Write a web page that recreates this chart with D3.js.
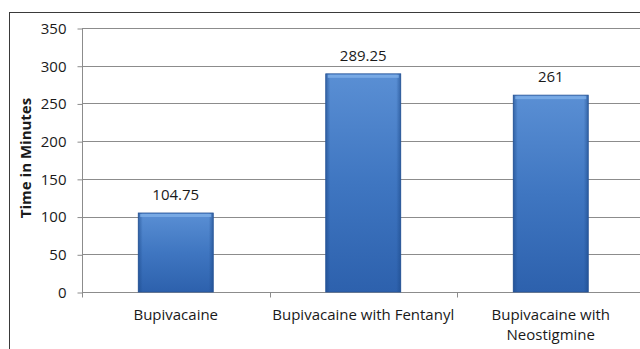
<!DOCTYPE html>
<html><head><meta charset="utf-8">
<script src="https://cdn.jsdelivr.net/npm/d3@7"></script>
<style>body{margin:0;background:#fff;}svg{display:block;font-family:"Open Sans",sans-serif;}</style>
</head><body>
<svg id="c" width="640" height="349"></svg>
<script>
const categories = ["Bupivacaine", "Bupivacaine with Fentanyl", "Bupivacaine with|Neostigmine"];
const values = [104.75, 289.25, 261];
const valueLabels = ["104.75", "289.25", "261"];
const yTicks = [0, 50, 100, 150, 200, 250, 300, 350];
const yTitle = "Time in Minutes";

(function() {
const svg = d3.select("#c");
const pLeft = 82, pRight = 644.5, pTop = 28, pBottom = 292;
const FS = 15;
const x = d3.scaleBand().domain(categories).range([pLeft, pRight]).paddingInner(0.6).paddingOuter(0.3);
const y = d3.scaleLinear().domain([0, 350]).range([pBottom, pTop]);

svg.append("rect").attr("x", 9.5).attr("y", 12.5).attr("width", 700).attr("height", 400)
  .attr("fill", "none").attr("stroke", "#3a3a3a").attr("stroke-width", 1);

const defs = svg.append("defs");
const gv = defs.append("linearGradient").attr("id", "gv").attr("x1", 0).attr("y1", 0).attr("x2", 0).attr("y2", 1);
gv.append("stop").attr("offset", 0).attr("stop-color", "#5a8fd4");
gv.append("stop").attr("offset", 0.5).attr("stop-color", "#3f76c1");
gv.append("stop").attr("offset", 1).attr("stop-color", "#2d61ad");
const gh = defs.append("linearGradient").attr("id", "gh").attr("x1", 0).attr("y1", 0).attr("x2", 1).attr("y2", 0);
gh.append("stop").attr("offset", 0).attr("stop-color", "#1d4a8a").attr("stop-opacity", 0.6);
gh.append("stop").attr("offset", 0.06).attr("stop-color", "#1d4a8a").attr("stop-opacity", 0);
gh.append("stop").attr("offset", 0.94).attr("stop-color", "#1d4a8a").attr("stop-opacity", 0);
gh.append("stop").attr("offset", 1).attr("stop-color", "#1d4a8a").attr("stop-opacity", 0.6);

svg.append("g").selectAll("line").data(yTicks.filter(d => d > 0)).join("line")
  .attr("x1", pLeft).attr("x2", 640).attr("y1", d => Math.round(y(d)) + 0.5).attr("y2", d => Math.round(y(d)) + 0.5)
  .attr("stroke", "#8c8c8c").attr("stroke-width", 1);

const ya = svg.append("g").attr("transform", `translate(${pLeft + 0.5},0.5)`)
  .call(d3.axisLeft(y).tickValues(yTicks).tickSize(5).tickPadding(11));
ya.select(".domain").attr("stroke", "#8c8c8c").attr("d", `M-0,${pTop}V${pBottom + 4}`);
ya.selectAll(".tick line").attr("stroke", "#8c8c8c");
ya.selectAll(".tick text").attr("font-size", FS).attr("fill", "#1a1a1a").attr("font-family", "'Open Sans',sans-serif");

const xa = svg.append("g").attr("transform", `translate(0,${pBottom + 0.5})`);
xa.append("line").attr("x1", pLeft).attr("x2", 640).attr("stroke", "#8c8c8c");
const bounds = [0, 1, 2].map(i => pLeft + i * (pRight - pLeft) / 3);
xa.selectAll(".tk").data(bounds).join("line").attr("class", "tk")
  .attr("x1", d => Math.round(d) + 0.5).attr("x2", d => Math.round(d) + 0.5).attr("y1", 0).attr("y2", 5)
  .attr("stroke", "#8c8c8c");
const catCenter = c => x(c) + x.bandwidth() / 2;
xa.selectAll(".cl").data(categories).join("text").attr("class", "cl")
  .attr("text-anchor", "middle").attr("font-size", FS).attr("fill", "#1a1a1a")
  .each(function(c) {
    const parts = c.split("|");
    d3.select(this).selectAll("tspan").data(parts).join("tspan")
      .attr("x", catCenter(c)).attr("y", (d, i) => 27 + i * 20).text(d => d);
  });

const bars = svg.append("g");
bars.selectAll(".b").data(categories).join("rect").attr("class", "b")
  .attr("x", c => x(c)).attr("width", x.bandwidth())
  .attr("y", (c, i) => y(values[i])).attr("height", (c, i) => y(0) - y(values[i]))
  .attr("fill", "url(#gv)").attr("stroke", "#2a5699").attr("stroke-width", 0.8);
bars.selectAll(".bh").data(categories).join("rect").attr("class", "bh")
  .attr("x", c => x(c)).attr("width", x.bandwidth())
  .attr("y", (c, i) => y(values[i])).attr("height", (c, i) => y(0) - y(values[i]))
  .attr("fill", "url(#gh)");
bars.selectAll(".bt").data(categories).join("rect").attr("class", "bt")
  .attr("x", c => x(c) + 2).attr("width", x.bandwidth() - 4)
  .attr("y", (c, i) => y(values[i]) + 1).attr("height", 3)
  .attr("fill", "#7fb0e8").attr("opacity", 0.8);

svg.append("g").selectAll("text").data(categories).join("text")
  .attr("x", c => catCenter(c)).attr("y", (c, i) => y(values[i]) - 13)
  .attr("text-anchor", "middle").attr("font-size", FS).attr("fill", "#1a1a1a")
  .text((c, i) => valueLabels[i]);

svg.append("text").attr("transform", `translate(31,${(pTop + pBottom) / 2 - 2}) rotate(-90)`)
  .attr("text-anchor", "middle").attr("font-size", FS).attr("font-weight", "bold").attr("fill", "#1a1a1a")
  .text(yTitle);
})();
</script>
</body></html>
